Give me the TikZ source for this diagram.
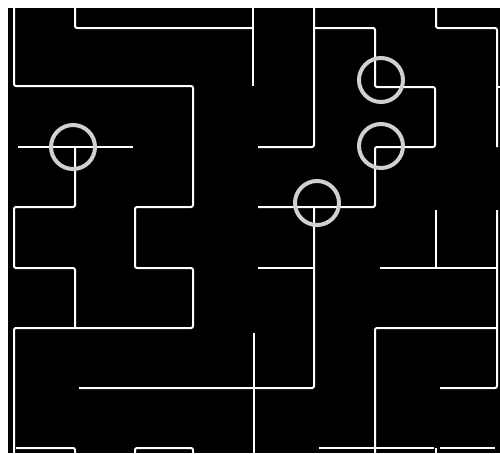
\documentclass[tikz,border=0pt]{standalone}
\definecolor{WallWhite}{RGB}{255, 255, 255}
\definecolor{RingGrey}{RGB}{208, 208, 208}
\usepackage{tikz}
\usetikzlibrary{positioning}

\begin{document}
\begin{tikzpicture}[x=1pt, y=-1pt, wall/.style={draw=WallWhite, line width=2pt, rounded corners=2pt}, ringnode/.style={draw=RingGrey, line width=4pt, circle, minimum size=44pt, inner sep=0pt}]
\useasboundingbox (0,0) rectangle (500,453);
\fill[white] (0,0) rectangle (500,453);
\fill[black] (8,8) rectangle (500,453);

% left half
\draw[wall] (14,8) -- (14,86) -- (193,86) -- (193,207) -- (135,207) -- (135,268) -- (193,268) -- (193,328) -- (14,328) -- (14,453);
\draw[wall] (75,147) -- (75,207) -- (14,207) -- (14,268) -- (75,268) -- (75,328);
\draw[wall] (18,147) -- (133,147);
\draw[wall] (75,8) -- (75,28) -- (253,28);
\draw[wall] (253,8) -- (253,86);
\draw[wall] (16,448) -- (75,448) -- (75,453);
\draw[wall] (135,453) -- (135,448) -- (193,448) -- (193,453);
\draw[wall] (314,207) -- (314,388) -- (79,388);

% right half
\draw[wall] (314,8) -- (314,147) -- (258,147);
\draw[wall] (314,28) -- (375,28) -- (375,87) -- (435,87) -- (435,147) -- (375,147) -- (375,207) -- (258,207);
\draw[wall] (258,268) -- (314,268);
\draw[wall] (436,8) -- (436,28) -- (497,28) -- (497,147);
\draw[wall] (497,87) -- (500,87);
\draw[wall] (436,210) -- (436,268);
\draw[wall] (380,268) -- (497,268);
\draw[wall] (497,210) -- (497,388) -- (440,388);
\draw[wall] (375,453) -- (375,328) -- (497,328);
\draw[wall] (254,333) -- (254,453);
\draw[wall] (319,448) -- (434,448);
\draw[wall] (436,448) -- (436,453);
\draw[wall] (440,448) -- (495,448);

% marked crossings
\node[ringnode] (r1) at (73,147) {};
\node[ringnode] (r2) at (381,80) {};
\node[ringnode] (r3) at (381,146) {};
\node[ringnode] (r4) at (317,203) {};
\end{tikzpicture}
\end{document}
